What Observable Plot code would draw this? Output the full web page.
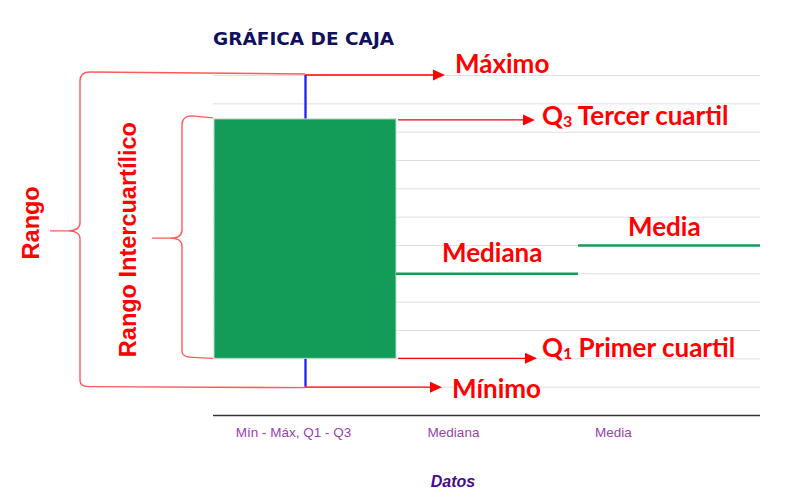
<!DOCTYPE html>
<html><head><meta charset="utf-8">
<script src="https://cdn.jsdelivr.net/npm/d3@7"></script>
<script src="https://cdn.jsdelivr.net/npm/@observablehq/plot@0.6"></script>
<style>body{margin:0;background:#fff;}</style>
</head><body><div id="chart"></div>
<script>
// ---- data ----
const categories = ["Mín - Máx, Q1 - Q3", "Mediana", "Media"];
const minimo = 1;
const q1 = 2;
const mediana = 5;
const q3 = 10.45;
const maximo = 12;
const media = 6;
const gridValues = [1, 2, 3, 4, 5, 6, 7, 8, 9, 10, 11, 12];
const titleText = "GRÁFICA DE CAJA";
const xTitle = "Datos";

const boxData = [{cat: categories[0], min: minimo, q1: q1, q3: q3, max: maximo}];
const lineData = [{cat: categories[1], v: mediana}, {cat: categories[2], v: media}];

const plot = Plot.plot({
  width: 792, height: 504,
  marginTop: 75, marginBottom: 89, marginLeft: 213, marginRight: 32,
  x: {domain: categories, padding: 0, label: null},
  y: {domain: [0, 12], axis: null},
  style: {background: "#fff", fontFamily: "'Liberation Sans', Arial, sans-serif", overflow: "visible"},
  marks: [
    Plot.ruleY(gridValues, {stroke: "#dedede", strokeWidth: 1}),
    Plot.ruleX(boxData, {x: "cat", y1: "min", y2: "max", stroke: "#1f1ff5", strokeWidth: 2.3}),
    Plot.barY(boxData, {x: "cat", y1: "q1", y2: "q3", fill: "#139c58", stroke: "#b8dcc6", strokeWidth: 1}),
    Plot.tickY(lineData, {x: "cat", y: "v", stroke: "#139c58", strokeWidth: 2.5}),
    Plot.ruleY([0], {stroke: "#333", strokeWidth: 1.3}),
    Plot.axisX({tickSize: 0, tickPadding: 12, fontSize: 13.5, color: "#9b3fb0", label: null})
  ]
});
document.getElementById("chart").appendChild(plot);

const svg = d3.select(plot);
const ys = plot.scale("y");
const xs = plot.scale("x");
const Y = v => ys.apply(v);
const x0 = xs.range[0];
const bw = xs.bandwidth;

// tick labels laid out on a narrower span (as in the reference)
const labelStep = 160;
svg.selectAll('g[aria-label="x-axis tick label"] text').each(function(d, i) {
  const t = d3.select(this);
  const m = /translate\(([-\d.]+),\s*([-\d.]+)\)/.exec(t.attr("transform") || "");
  if (!m) return;
  const cur = xs.apply(categories[i]) + bw / 2;
  const want = x0 + (i + 0.5) * labelStep;
  t.attr("transform", `translate(${+m[1] + want - cur},${m[2]})`);
});

const g = svg.append("g").attr("text-anchor", "start");
// title & x label
g.append("text").attr("x", x0).attr("y", 45).attr("text-anchor", "start")
  .attr("font-family", "'DejaVu Sans', Verdana, sans-serif").attr("font-weight", "bold")
  .attr("font-size", 18.5).attr("fill", "#10105e").text(titleText);
g.append("text").attr("x", x0 + 1.5 * labelStep).attr("y", 487).attr("text-anchor", "middle")
  .attr("font-family", "'Liberation Sans', Arial, sans-serif").attr("font-weight", "bold")
  .attr("font-style", "italic").attr("font-size", 16).attr("fill", "#4b0a8c").text(xTitle);

const red = "#ff0000";
const braceColor = "#ff5a5a";
const xw = xs.apply(categories[0]) + bw / 2;   // whisker x
const boxR = xs.apply(categories[0]) + bw;

function brace(xb, tipX, yTop, yBot, xEndTop, xEndBot) {
  const mid = (yTop + yBot) / 2;
  return `M${xEndTop},${yTop - 1} L${xb + 10},${yTop - 3} Q${xb},${yTop - 3} ${xb},${yTop + 6}` +
    ` L${xb},${mid - 8} Q${xb},${mid} ${xb - 12},${mid} L${tipX},${mid}` +
    ` M${xb - 12},${mid} Q${xb},${mid} ${xb},${mid + 8} L${xb},${yBot - 6}` +
    ` Q${xb},${yBot} ${xb + 10},${yBot} L${xEndBot},${yBot + 1}`;
}
g.append("path").attr("d", brace(80, 50, Y(maximo), Y(minimo), xw, xw))
  .attr("fill", "none").attr("stroke", braceColor).attr("stroke-width", 1.4);
g.append("path").attr("d", brace(182, 152, Y(q3), Y(q1) - 1, x0, x0))
  .attr("fill", "none").attr("stroke", braceColor).attr("stroke-width", 1.4);

function arrow(xa, xb, yv) {
  g.append("line").attr("x1", xa).attr("x2", xb - 10).attr("y1", yv).attr("y2", yv)
    .attr("stroke", red).attr("stroke-width", 1.4);
  g.append("path").attr("d", `M${xb},${yv} L${xb - 12},${yv - 5.5} L${xb - 12},${yv + 5.5} Z`).attr("fill", red);
}
arrow(xw, 445, Y(maximo));
arrow(boxR + 2, 535, Y(q3) + 1);
arrow(boxR + 2, 537, Y(q1));
arrow(xw, 442, Y(minimo) + 0.5);

function label(x, yv, parts) {
  const t = g.append("text").attr("x", x).attr("y", yv).attr("dominant-baseline", "central")
    .attr("text-anchor", "start")
    .attr("font-family", "Lato, 'Open Sans', sans-serif").attr("font-weight", "bold")
    .attr("font-size", 26).attr("fill", red);
  parts.forEach(p => {
    const s = t.append("tspan").text(p.t);
    if (p.sub) s.attr("font-size", 16).attr("dy", 5);
    if (p.after) s.attr("dy", -5);
  });
}
label(455, Y(maximo) - 12, [{t: "Máximo"}]);
label(542, Y(q3) - 4, [{t: "Q"}, {t: "3", sub: true}, {t: " Tercer cuartil", after: true}]);
label(442, Y(mediana) - 21, [{t: "Mediana"}]);
label(628, Y(media) - 19, [{t: "Media"}]);
label(542, Y(q1) - 11, [{t: "Q"}, {t: "1", sub: true}, {t: " Primer cuartil", after: true}]);
label(452, Y(minimo) + 1, [{t: "Mínimo"}]);

function vlabel(x, yv, txt) {
  g.append("text").attr("transform", `translate(${x},${yv}) rotate(-90)`)
    .attr("text-anchor", "middle").attr("dominant-baseline", "central")
    .attr("font-family", "'Liberation Sans', Arial, sans-serif").attr("font-weight", "bold")
    .attr("font-size", 23.5).attr("fill", red).text(txt);
}
vlabel(31, (Y(maximo) + Y(minimo)) / 2 - 8, "Rango");
vlabel(128, (Y(q3) + Y(q1)) / 2 + 1, "Rango Intercuartílico");
</script>
</body></html>
